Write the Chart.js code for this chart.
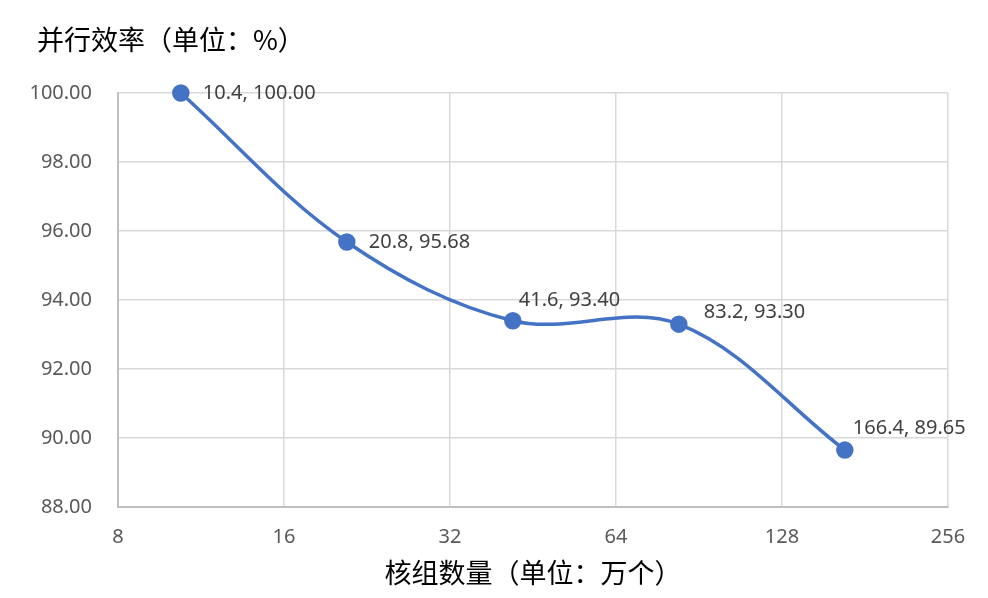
<!DOCTYPE html>
<html>
<head>
<meta charset="utf-8">
<script src="https://cdn.jsdelivr.net/npm/chart.js@4/dist/chart.umd.min.js"></script>
<style>
  html, body { margin: 0; padding: 0; background: #fff; }
  #wrap { width: 988px; height: 598px; }
</style>
</head>
<body>
<div id="wrap"><canvas id="effChart"></canvas></div>
<script>
// Data
const coreGroups = [10.4, 20.8, 41.6, 83.2, 166.4];   // 万个
const efficiency = [100.00, 95.68, 93.40, 93.30, 89.65]; // %
const xTicks = [8, 16, 32, 64, 128, 256];
const yTicks = [88, 90, 92, 94, 96, 98, 100];
const chartTitle = '并行效率（单位：%）';
const xTitle = '核组数量（单位：万个）';

// label offsets (pixels) relative to each point: [dx, dy]
const labelOffsets = [[22, 0], [22, 0], [6, -20], [25, -12], [8, -22]];

const numFont = "'Noto Sans', 'Noto Sans CJK SC', sans-serif";
const cjkFont = "'Noto Sans CJK SC', 'Noto Sans', sans-serif";

// Draws "x, y" labels next to each point, plus the top-left title
const pointLabels = {
    id: 'pointLabels',
    afterDatasetsDraw(chart) {
        const ctx = chart.ctx;
        const meta = chart.getDatasetMeta(0);
        ctx.save();
        ctx.font = "20px " + numFont;
        ctx.fillStyle = '#404040';
        ctx.textAlign = 'left';
        ctx.textBaseline = 'middle';
        meta.data.forEach(function(pt, i) {
            const txt = coreGroups[i].toFixed(1) + ', ' + efficiency[i].toFixed(2);
            ctx.fillText(txt, pt.x + labelOffsets[i][0], pt.y + labelOffsets[i][1]);
        });

        // title, left aligned like the original
        ctx.font = "27px " + cjkFont;
        ctx.fillStyle = '#000';
        ctx.fillText(chartTitle, 37, 40);
        ctx.restore();
    }
};

const ctx = document.getElementById('effChart').getContext('2d');
new Chart(ctx, {
    type: 'line',
    data: {
        datasets: [{
            data: coreGroups.map(function(x, i) { return { x: x, y: efficiency[i] }; }),
            borderColor: '#4472C4',
            backgroundColor: '#4472C4',
            borderWidth: 3.5,
            pointRadius: 7,
            pointHoverRadius: 7,
            tension: 0.35,
            clip: false
        }]
    },
    options: {
        responsive: true,
        maintainAspectRatio: false,
        animation: false,
        layout: { padding: { left: 0, right: 40, top: 93, bottom: 0 } },
        plugins: {
            legend: { display: false },
            tooltip: { enabled: false },
            title: { display: false }
        },
        scales: {
            x: {
                type: 'logarithmic',
                min: 8,
                max: 256,
                afterBuildTicks: function(scale) {
                    scale.ticks = xTicks.map(function(v) { return { value: v }; });
                },
                afterFit: function(scale) { scale.height = 91; },
                grid: { color: '#d9d9d9', lineWidth: 1.5, drawTicks: false },
                border: { color: '#bfbfbf', width: 2 },
                ticks: {
                    color: '#595959',
                    font: { family: numFont, size: 20 },
                    padding: 18,
                    maxRotation: 0,
                    autoSkip: false,
                    callback: function(v) { return String(v); }
                },
                title: {
                    display: true,
                    text: xTitle,
                    color: '#000',
                    font: { family: cjkFont, size: 27 },
                    padding: { top: 4, bottom: 9 }
                }
            },
            y: {
                min: 88,
                max: 100,
                afterBuildTicks: function(scale) {
                    scale.ticks = yTicks.map(function(v) { return { value: v }; });
                },
                afterFit: function(scale) { scale.width = 118; },
                grid: { color: '#d9d9d9', lineWidth: 1.5, drawTicks: false },
                border: { color: '#bfbfbf', width: 2 },
                ticks: {
                    color: '#595959',
                    font: { family: numFont, size: 20 },
                    padding: 26,
                    callback: function(v) { return Number(v).toFixed(2); }
                }
            }
        }
    },
    plugins: [pointLabels]
});
</script>
</body>
</html>
